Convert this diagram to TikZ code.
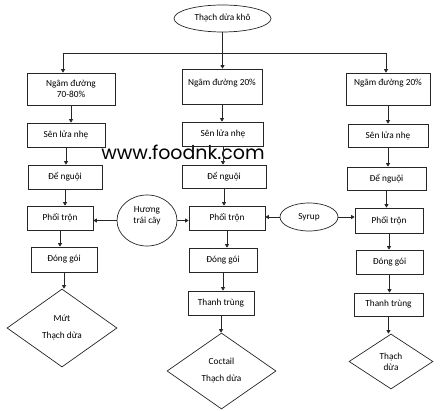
\documentclass[tikz,border=0pt]{standalone}
\usepackage{fontspec}
\setmainfont{Carlito}
\newfontfamily\wmfont{Poppins}
\usetikzlibrary{shapes.geometric,arrows.meta}
\begin{document}
\begin{tikzpicture}[x=1pt,y=-1pt,
  every node/.style={font=\fontsize{9.3}{11}\selectfont},
  box/.style={draw=black!85, line width=0.7pt, rectangle, inner sep=0pt, align=center},
  ell/.style={draw=black!85, line width=0.7pt, ellipse, inner sep=0pt, align=center},
  dia/.style={draw=black!85, line width=0.7pt, diamond, inner sep=0pt, align=center},
  arr/.style={draw=black!85, line width=0.7pt, -{Triangle[width=4pt,length=3.5pt]}},
  ln/.style={draw=black!85, line width=0.7pt},
  toplabel/.style={label={[anchor=center, yshift=#1]north:Ngâm đường 20\%}}]
\useasboundingbox (0,0) rectangle (447,411);

% watermark
\node[font=\wmfont\fontsize{19}{19}\selectfont, anchor=base] (wm) at (183,160) {www.foodnk.com};

% top
\node[ell, minimum width=97pt, minimum height=27pt] (top) at (222.5,18.5) {Thạch dừa khô};

% left column
\node[box, minimum width=88pt, minimum height=32pt] (L1) at (71,89) {Ngâm đường\\70-80\%};
\node[box, minimum width=78pt, minimum height=24pt] (L2) at (66,135) {Sên lửa nhẹ};
\node[box, minimum width=74pt, minimum height=24pt] (L3) at (65,177) {Để nguội};
\node[box, minimum width=66pt, minimum height=24pt] (L4) at (60,218) {Phối trộn};
\node[box, minimum width=66pt, minimum height=25pt] (L5) at (64,259.5) {Đóng gói};
\node[dia, minimum width=110pt, minimum height=78pt] (L6) at (62,328) {Mứt\\[6pt]Thạch dừa};

% middle column
\node[box, minimum width=80pt, minimum height=35pt, toplabel=-14pt] (M1) at (222,86.5) {};
\node[box, minimum width=81pt, minimum height=24pt] (M2) at (223,134) {Sên lửa nhẹ};
\node[box, minimum width=84pt, minimum height=23pt] (M3) at (224,176.5) {Để nguội};
\node[box, minimum width=76pt, minimum height=24pt] (M4) at (227,218) {Phối trộn};
\node[box, minimum width=68pt, minimum height=24pt] (M5) at (223,260) {Đóng gói};
\node[box, minimum width=66pt, minimum height=24pt] (M6) at (221,303) {Thanh trùng};
\node[dia, minimum width=109pt, minimum height=76pt] (M7) at (221.5,371) {Coctail\\[6pt]Thạch dừa};

% right column
\node[box, minimum width=84pt, minimum height=32pt, toplabel=-10pt] (R1) at (388,89) {};
\node[box, minimum width=80pt, minimum height=23pt] (R2) at (388,135.5) {Sên lửa nhẹ};
\node[box, minimum width=79pt, minimum height=23pt] (R3) at (386.5,178.5) {Để nguội};
\node[box, minimum width=68pt, minimum height=25pt] (R4) at (389,220.5) {Phối trộn};
\node[box, minimum width=67pt, minimum height=24pt] (R5) at (389.5,262) {Đóng gói};
\node[box, minimum width=69pt, minimum height=23pt] (R6) at (388.5,304.5) {Thanh trùng};
\node[dia, minimum width=84pt, minimum height=55pt] (R7) at (391,361.5) {Thạch\\dừa};

% side inputs
\node[ell, minimum width=60pt, minimum height=51pt] (H) at (147,220.5) {};
\node[anchor=center, align=center] (Ht) at (147,216) {Hương\\trái cây};
\node[ell, minimum width=58pt, minimum height=28pt] (S) at (309,217) {Syrup};

% top distribution
\coordinate (jl) at (63,53);
\coordinate (jr) at (386,53);
\draw[arr] (top.south) -- (top.south |- M1.north);
\draw[ln] (jl) -- (jr);
\draw[arr] (jl) -- (jl |- L1.north);
\draw[arr] (jr) -- (jr |- R1.north);

% vertical flows
\foreach \a/\b in {L1/L2,L2/L3,L3/L4,L4/L5,L5/L6,
                   M1/M2,M2/M3,M3/M4,M4/M5,M5/M6,M6/M7,
                   R1/R2,R2/R3,R3/R4,R4/R5,R5/R6,R6/R7}
  \draw[arr] (\a.south) -- (\a.south |- \b.north);

% side arrows
\draw[arr] (H.west) -- (H.west -| L4.east);
\draw[arr] (H.east) -- (H.east -| M4.west);
\draw[arr] (S.west) -- (S.west -| M4.east);
\draw[arr] (S.east) -- (S.east -| R4.west);
\end{tikzpicture}
\end{document}
